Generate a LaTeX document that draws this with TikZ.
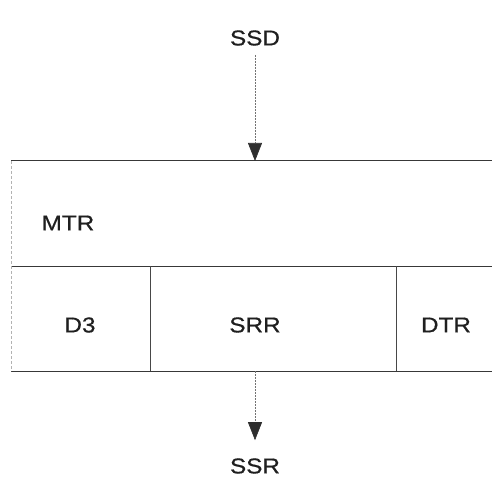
\documentclass[tikz,border=0pt]{standalone}
\usepackage{fontspec}
\setmainfont{Liberation Sans}
\newfontfamily\labfont[FakeStretch=1.13,FakeBold=0.6]{Liberation Sans}
\usetikzlibrary{arrows.meta}
\begin{document}
\begin{tikzpicture}[x=1pt,y=-1pt,
  lab/.style={font=\labfont\fontsize{21.5}{25}\selectfont, text=black!88, inner sep=0pt, anchor=center},
  rule/.style={draw=black!78, line width=1pt},
  faint/.style={draw=black!30, line width=0.6pt, dash pattern=on 3pt off 2pt},
  div/.style={draw=black!72, line width=0.8pt},
  flow/.style={draw=black!55, line width=0.6pt, dash pattern=on 2pt off 1pt,
    -{Triangle[width=14pt,length=18pt]}, arrows={[color=black!82]}}]
\useasboundingbox (0,0) rectangle (492,481);
% box structure
\draw[rule] (11,161) -- (492,161);
\draw[rule] (11,266) -- (492,266);
\draw[rule] (11,371) -- (492,371);
\draw[faint] (11,161) -- (11,371);
\draw[div] (150,266) -- (150,371);
\draw[div] (396,266) -- (396,371);
% labels
\node[lab] (ssd) at (255,38) {SSD};
\node[lab] (mtr) at (68,223) {MTR};
\node[lab] (d3) at (80,325) {D3};
\node[lab] (srr) at (255,325) {SRR};
\node[lab] (dtr) at (446,325) {DTR};
\node[lab] (ssr) at (255,466) {SSR};
\coordinate (boxtop) at (255,161);
\coordinate (boxbot) at (255,371);
% connectors
\draw[flow, shorten <=9pt] (ssd) -- (boxtop);
\draw[flow, shorten >=18pt] (boxbot) -- (ssr);
\end{tikzpicture}
\end{document}
